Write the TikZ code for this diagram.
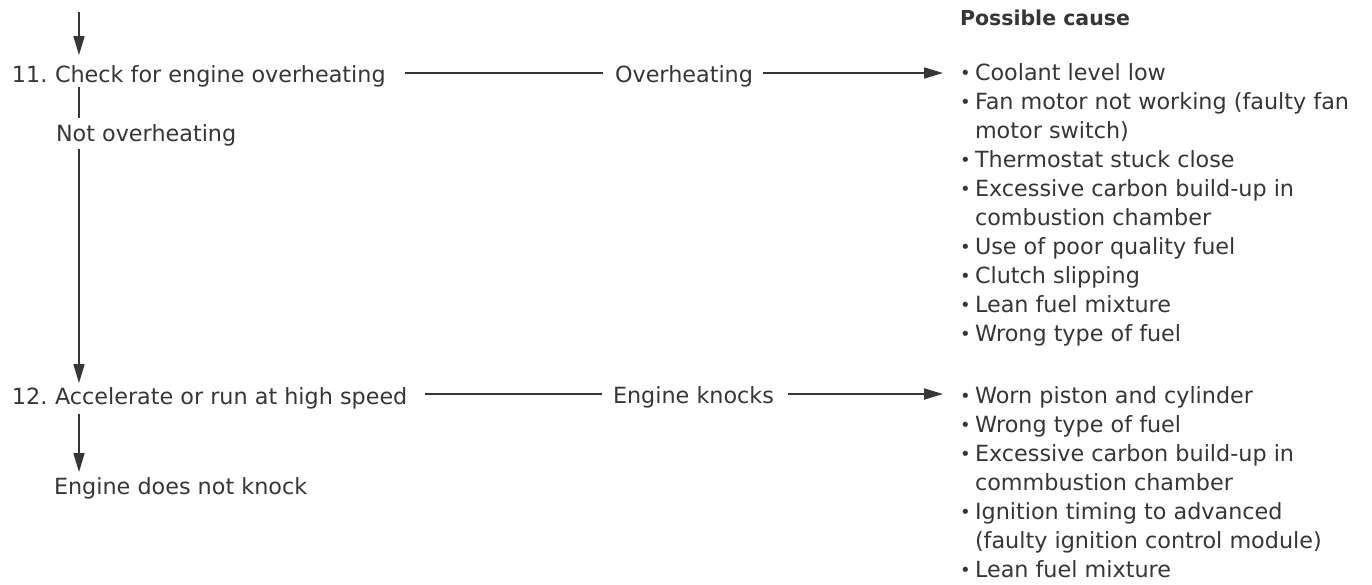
\documentclass[tikz,border=0pt]{standalone}
\usepackage{fontspec}
\setmainfont{DejaVu Sans}
\usetikzlibrary{arrows.meta}
\definecolor{ink}{HTML}{363636}
\newcommand{\bul}{\makebox[15pt][l]{\raisebox{1pt}{\fontsize{18}{18}\selectfont\textbullet}}}
\begin{document}
\begin{tikzpicture}[x=1pt,y=-1pt,
  every node/.style={inner sep=0pt, outer sep=0pt, text=ink, font=\fontsize{22.3}{29}\selectfont},
  lbl/.style={anchor=base west},
  conn/.style={draw=ink, line width=1.7pt},
  arr/.style={conn, -{Triangle[length=19pt,width=11pt]}}]
\useasboundingbox (0,0) rectangle (1372,584);
\coordinate (stem) at (79,0);
\coordinate (start) at (79,12);
\coordinate (row1) at (0,73);
\coordinate (row2) at (0,394);

% left column
\node[lbl] (n11) at (12,82) {11.};
\node[lbl] (chk) at (55,82) {Check for engine overheating};
\node[lbl] (notov) at (56,141) {Not overheating};
\node[lbl] (n12) at (12,404) {12.};
\node[lbl] (acc) at (55,404) {Accelerate or run at high speed};
\node[lbl] (nok) at (54,494) {Engine does not knock};
% middle labels
\node[lbl] (ovh) at (615,82) {Overheating};
\node[lbl] (knk) at (613,403) {Engine knocks};
% right column
\node[lbl, font=\bfseries\fontsize{20.5}{24}\selectfont] (pc) at (960,25) {Possible cause};
\node[lbl] (c1) at (960,80) {\bul Coolant level low};
\node[lbl] (c2) at (960,109.1) {\bul Fan motor not working (faulty fan};
\node[lbl] (c2b) at (975,138.2) {motor switch)};
\node[lbl] (c3) at (960,167.3) {\bul Thermostat stuck close};
\node[lbl] (c4) at (960,196.4) {\bul Excessive carbon build-up in};
\node[lbl] (c4b) at (975,225.5) {combustion chamber};
\node[lbl] (c5) at (960,254.6) {\bul Use of poor quality fuel};
\node[lbl] (c6) at (960,283.7) {\bul Clutch slipping};
\node[lbl] (c7) at (960,312.8) {\bul Lean fuel mixture};
\node[lbl] (c8) at (960,341.9) {\bul Wrong type of fuel};

\node[lbl] (k1) at (960,403) {\bul Worn piston and cylinder};
\node[lbl] (k2) at (960,432.1) {\bul Wrong type of fuel};
\node[lbl] (k3) at (960,461.2) {\bul Excessive carbon build-up in};
\node[lbl] (k3b) at (975,490.3) {commbustion chamber};
\node[lbl] (k4) at (960,519.4) {\bul Ignition timing to advanced};
\node[lbl] (k4b) at (975,548.5) {(faulty ignition control module)};
\node[lbl] (k5) at (960,577.6) {\bul Lean fuel mixture};

% vertical connectors
\draw[arr, shorten >=10pt] (start) -- (chk.north -| stem);
\draw[conn, shorten >=6pt] (chk.south -| stem) -- (notov.north -| stem);
\draw[arr, shorten <=3pt, shorten >=4pt] (notov.south -| stem) -- (acc.north -| stem);
\draw[arr, shorten <=5pt, shorten >=5pt] (acc.south -| stem) -- (nok.north -| stem);

% horizontal connectors
\draw[conn, shorten <=19pt, shorten >=12pt] (chk.east |- row1) -- (ovh.west |- row1);
\draw[arr, shorten <=10pt, shorten >=17pt] (ovh.east |- row1) -- (c1.west |- row1);
\draw[conn, shorten <=18pt, shorten >=11pt] (acc.east |- row2) -- (knk.west |- row2);
\draw[arr, shorten <=14pt, shorten >=17pt] (knk.east |- row2) -- (k1.west |- row2);
\end{tikzpicture}
\end{document}
